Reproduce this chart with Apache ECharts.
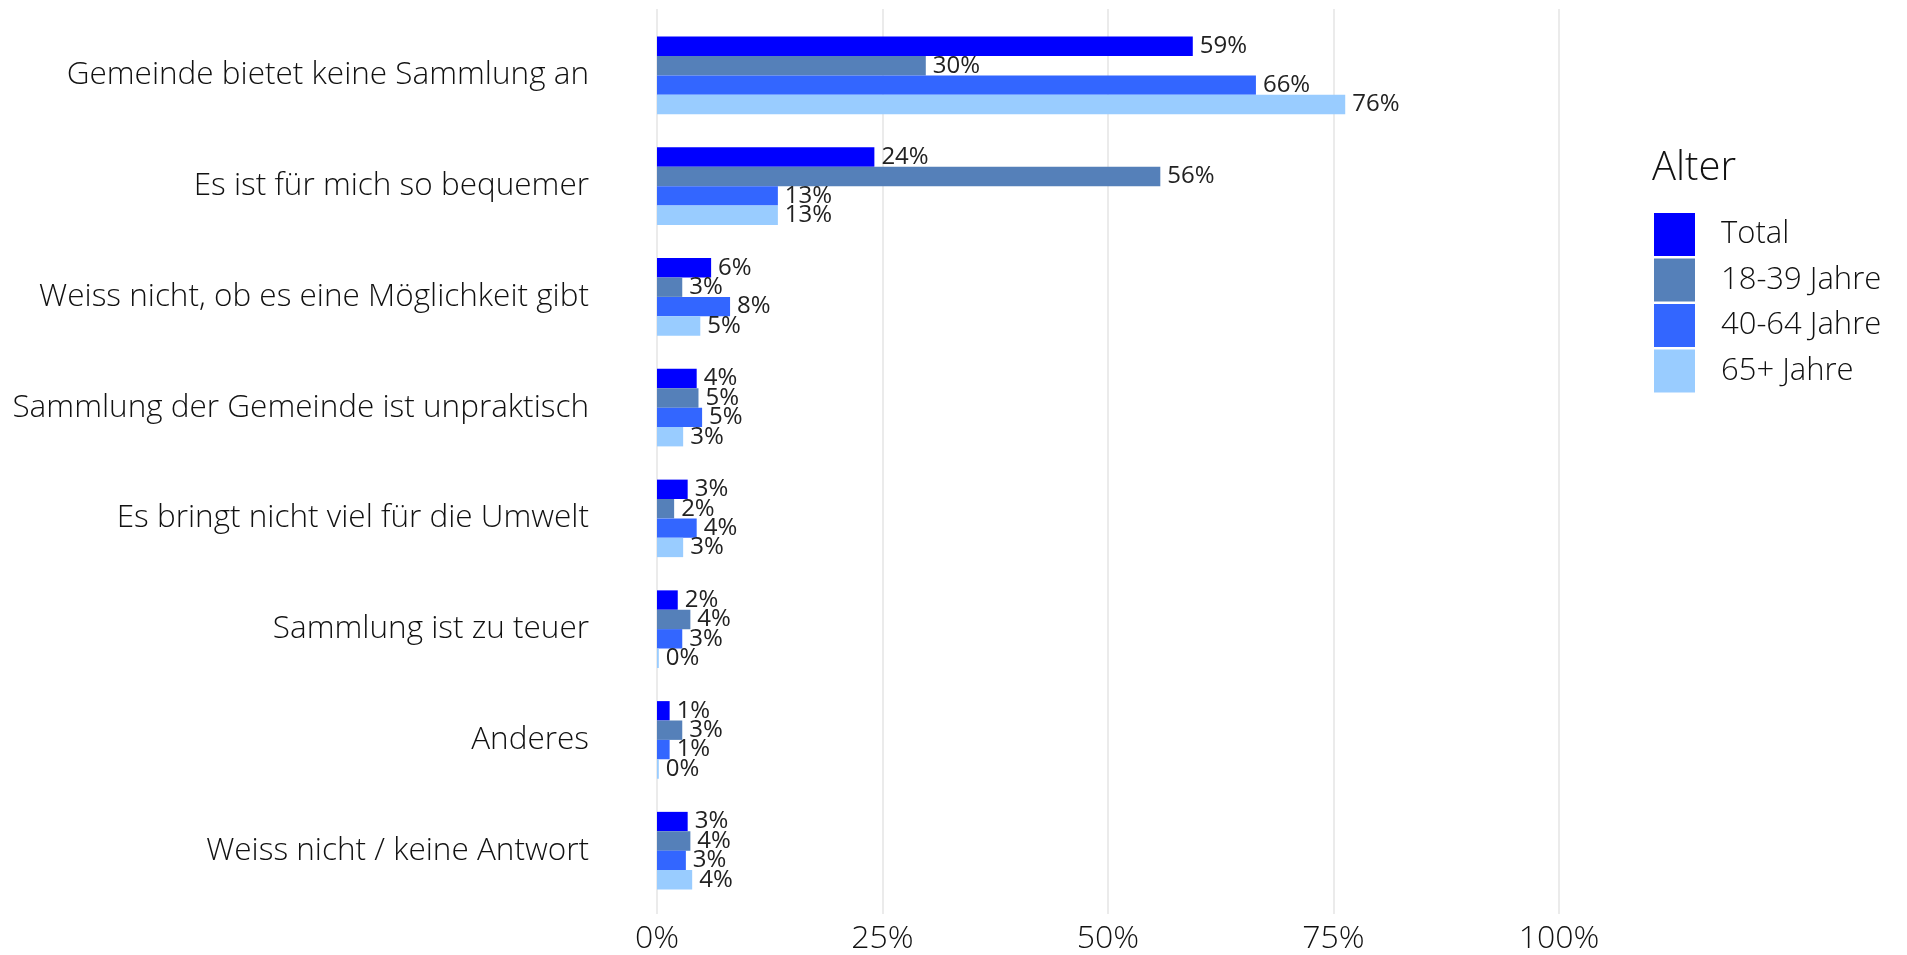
<!DOCTYPE html>
<html>
<head>
<meta charset="utf-8">
<script src="https://cdn.jsdelivr.net/npm/echarts@6/dist/echarts.min.js"></script>
<style>
  html, body { margin: 0; padding: 0; background: #fff; }
  #chart { width: 1907px; height: 955px; }
</style>
</head>
<body>
<div id="chart"></div>
<script>
// Gründe, keine Sammlung zu nutzen – Anteile in Prozent nach Altersgruppe
const categories = [
  'Gemeinde bietet keine Sammlung an',
  'Es ist für mich so bequemer',
  'Weiss nicht, ob es eine Möglichkeit gibt',
  'Sammlung der Gemeinde ist unpraktisch',
  'Es bringt nicht viel für die Umwelt',
  'Sammlung ist zu teuer',
  'Anderes',
  'Weiss nicht / keine Antwort'
]
const total = [59.4, 24.1, 6.0, 4.4, 3.4, 2.3, 1.4, 3.4]
const age18to39 = [29.8, 55.8, 2.8, 4.6, 1.9, 3.7, 2.8, 3.7]
const age40to64 = [66.4, 13.4, 8.1, 5.0, 4.4, 2.8, 1.4, 3.2]
const age65plus = [76.3, 13.4, 4.8, 2.9, 2.9, 0.2, 0.2, 3.9]
const seriesNames = ['Total', '18-39 Jahre', '40-64 Jahre', '65+ Jahre']
const xTicks = [0, 25, 50, 75, 100]

const colors = ['#0000ff', '#5580b9', '#3366ff', '#99ccff']
const axisFont = 'Open Sans'

const chart = echarts.init(document.getElementById('chart'))

const makeSeries = (name, data, i) => ({
  name,
  type: 'bar',
  xAxisIndex: 0,
  yAxisIndex: 0,
  data,
  barGap: '0%',
  barCategoryGap: '30%',
  itemStyle: { color: colors[i] },
  label: {
    show: true,
    position: 'right',
    distance: 7,
    color: '#222',
    fontFamily: 'Open Sans',
    fontSize: 24,
    formatter: p => Math.round(p.value) + '%'
  },
  emphasis: { disabled: true }
})

const option = {
  animation: false,
  title: {
    text: 'Alter',
    left: 1652,
    top: 149,
    padding: 0,
    textStyle: { fontFamily: axisFont, fontWeight: 300, fontSize: 40, color: '#111' }
  },
  legend: {
    orient: 'vertical',
    left: 1654,
    top: 213,
    padding: 0,
    icon: 'rect',
    itemWidth: 41,
    itemHeight: 43,
    itemGap: 2.5,
    data: seriesNames,
    textStyle: {
      fontFamily: axisFont,
      fontWeight: 300,
      fontSize: 31,
      color: '#111',
      padding: [0, 0, 0, 21]
    }
  },
  grid: [
    { left: 657, width: 902, top: 20, height: 886 },
    { left: 657, width: 902, top: 9, height: 907 }
  ],
  xAxis: [
    {
      gridIndex: 0,
      type: 'value',
      min: 0,
      max: 100,
      show: false
    },
    {
      gridIndex: 1,
      type: 'value',
      min: 0,
      max: 100,
      interval: 25,
      axisLine: { show: false },
      axisTick: { show: false },
      splitLine: { show: true, lineStyle: { color: '#ebebeb', width: 2 } },
      axisLabel: {
        margin: 9,
        fontFamily: axisFont,
        fontWeight: 300,
        fontSize: 32,
        color: '#111',
        formatter: v => xTicks.includes(v) ? v + '%' : ''
      }
    }
  ],
  yAxis: [
    {
      gridIndex: 0,
      type: 'category',
      inverse: true,
      data: categories,
      axisLine: { show: false },
      axisTick: { show: false },
      axisLabel: {
        margin: 68,
        fontFamily: axisFont,
        fontWeight: 300,
        fontSize: 31.5,
        color: '#111',
        padding: [0, 0, 36, 0]
      }
    },
    {
      gridIndex: 1,
      type: 'category',
      data: categories,
      show: false
    }
  ],
  series: [
    makeSeries(seriesNames[0], total, 0),
    makeSeries(seriesNames[1], age18to39, 1),
    makeSeries(seriesNames[2], age40to64, 2),
    makeSeries(seriesNames[3], age65plus, 3)
  ]
}

chart.setOption(option)
</script>
</body>
</html>
